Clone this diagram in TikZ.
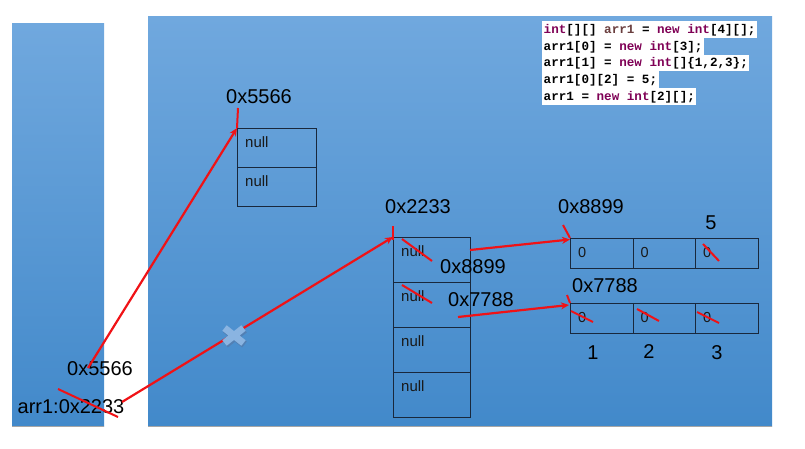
\documentclass[tikz,border=0pt]{standalone}
\usepackage{fontspec}
\setmainfont{Liberation Sans}
\newfontfamily\codefont{Liberation Mono}
\usetikzlibrary{arrows.meta}
\definecolor{bgtop}{RGB}{112,168,222}
\definecolor{bgbot}{RGB}{66,137,202}
\definecolor{kw}{RGB}{127,0,85}
\definecolor{vr}{RGB}{106,62,62}
\definecolor{boxline}{RGB}{25,40,60}
\definecolor{redline}{RGB}{240,18,22}
\definecolor{crossc}{RGB}{138,180,225}
\definecolor{crosss}{RGB}{82,128,180}
\begin{document}
\begin{tikzpicture}[x=1pt,y=-1pt,
  panel/.style={top color=bgtop,bottom color=bgbot,draw=none},
  cellbox/.style={draw=boxline,line width=1pt,anchor=north west,inner sep=0pt},
  celltxt/.style={anchor=west,inner sep=0pt,font=\fontsize{15}{15}\selectfont,text=black!90},
  zerotxt/.style={anchor=west,inner sep=0pt,font=\fontsize{14.5}{14.5}\selectfont,text=black!90},
  addr/.style={inner sep=0pt,font=\fontsize{20}{20}\selectfont,text=black},
  codeline/.style={anchor=west,fill=white,inner xsep=1.5pt,inner ysep=1pt,text height=11.3pt,text depth=3.5pt,font=\codefont\bfseries\fontsize{12.6}{14}\selectfont},
  redarrow/.style={draw=redline,line width=2.2pt,-{Stealth[length=8pt,width=7pt]}},
  redmark/.style={draw=redline,line width=2pt}]
\useasboundingbox (0,0) rectangle (805,449);
% panels
\shade[panel] (12,24) rectangle (104,426);
\shade[panel] (148,17) rectangle (772,426);
\draw[gray!70,line width=1pt] (12,426.5) -- (104,426.5);
\draw[gray!70,line width=1pt] (148,426.5) -- (772,426.5);
% code
\node[codeline] (l1) at (542,29.4) {\textcolor{kw}{int}[][] \textcolor{vr}{arr1} = \textcolor{kw}{new} \textcolor{kw}{int}[4][];};
\node[codeline] (l2) at (542,46.2) {arr1[0] = \textcolor{kw}{new} \textcolor{kw}{int}[3];};
\node[codeline] (l3) at (542,63.0) {arr1[1] = \textcolor{kw}{new} \textcolor{kw}{int}[]\{1,2,3\};};
\node[codeline] (l4) at (542,79.8) {arr1[0][2] = 5;};
\node[codeline] (l5) at (542,96.6) {arr1 = \textcolor{kw}{new} \textcolor{kw}{int}[2][];};
% array 0x5566
\node[cellbox,minimum width=79pt,minimum height=39pt] (a0) at (237,128) {};
\node[cellbox,minimum width=79pt,minimum height=39pt] (a1) at (237,167) {};
\node[celltxt] (a0t) at (245,142) {null};
\node[celltxt] (a1t) at (245,181) {null};
\node[addr] (la) at (259,97) {0x5566};
% array 0x2233
\node[cellbox,minimum width=77pt,minimum height=45pt] (b0) at (393,237) {};
\node[cellbox,minimum width=77pt,minimum height=45pt] (b1) at (393,282) {};
\node[cellbox,minimum width=77pt,minimum height=45pt] (b2) at (393,327) {};
\node[cellbox,minimum width=77pt,minimum height=45pt] (b3) at (393,372) {};
\node[celltxt] (b0t) at (401,251) {null};
\node[celltxt] (b1t) at (401,296) {null};
\node[celltxt] (b2t) at (401,341) {null};
\node[celltxt] (b3t) at (401,386) {null};
\node[addr] (lb) at (418,207) {0x2233};
\node[addr] (lb1) at (473,267) {0x8899};
\node[addr] (lb2) at (481,300) {0x7788};
% array 0x8899
\node[cellbox,minimum width=62.5pt,minimum height=30pt] (c0) at (570,238) {};
\node[cellbox,minimum width=62.5pt,minimum height=30pt] (c1) at (632.5,238) {};
\node[cellbox,minimum width=62.5pt,minimum height=30pt] (c2) at (695,238) {};
\node[zerotxt] (c0t) at (578,253) {0};
\node[zerotxt] (c1t) at (640.5,253) {0};
\node[zerotxt] (c2t) at (703,253) {0};
\node[addr] (lc) at (591,207) {0x8899};
\node[addr] (five) at (711,223) {5};
% array 0x7788
\node[cellbox,minimum width=62.5pt,minimum height=30pt] (d0) at (570,303) {};
\node[cellbox,minimum width=62.5pt,minimum height=30pt] (d1) at (632.5,303) {};
\node[cellbox,minimum width=62.5pt,minimum height=30pt] (d2) at (695,303) {};
\node[zerotxt] (d0t) at (578,318) {0};
\node[zerotxt] (d1t) at (640.5,318) {0};
\node[zerotxt] (d2t) at (703,318) {0};
\node[addr] (ld) at (605,286) {0x7788};
\node[addr] (n1) at (593,353) {1};
\node[addr] (n2) at (649,352) {2};
\node[addr] (n3) at (717,353) {3};
% stack labels
\node[addr] (s5566) at (100,369) {0x5566};
\node[addr] (sarr) at (71,407) {arr1:0x2233};
% connectors
\coordinate (sa) at (88,368);
\coordinate (sb) at (122,402);
\coordinate (ta) at (238,108);
\coordinate (tb) at (393,226);
\coordinate (tc) at (563,225);
\coordinate (td) at (567,295);
\coordinate (bc) at (470,250);
\coordinate (bd) at (458,317);
\coordinate (cin) at (570,239.5);
\coordinate (din) at (569,305);
\draw[redarrow] (sa) -- (a0.north west);
\draw[redarrow] (sb) -- (b0.north west);
\draw[redarrow] (bc) -- (cin);
\draw[redarrow] (bd) -- (din);
\draw[redmark] (ta) -- (a0.north west);
\draw[redmark] (tb) -- ([yshift=-3pt]b0.north west);
\draw[redmark] (tc) -- (c0.north west);
\draw[redmark] (td) -- (d0.north west);
% strikes
\draw[redmark] (58,389) -- (118,417);
\draw[redmark] (402,239) -- (432,261);
\draw[redmark] (402,285) -- (432,303);
\draw[redmark] (703,244) -- (719,261);
\draw[redmark] (571,311) -- (593,322);
\draw[redmark] (637,309) -- (659,321);
\draw[redmark] (697,312) -- (719,323);
% cross
\begin{scope}[shift={(235,337)}]
\draw[crosss,line width=7.5pt] (-9.5,-7.5) -- (9.5,7.5) (-9.5,7.5) -- (9.5,-7.5);
\end{scope}
\begin{scope}[shift={(234,335.5)}]
\draw[crossc,line width=7pt] (-9.5,-7.5) -- (9.5,7.5) (-9.5,7.5) -- (9.5,-7.5);
\end{scope}
\end{tikzpicture}
\end{document}
